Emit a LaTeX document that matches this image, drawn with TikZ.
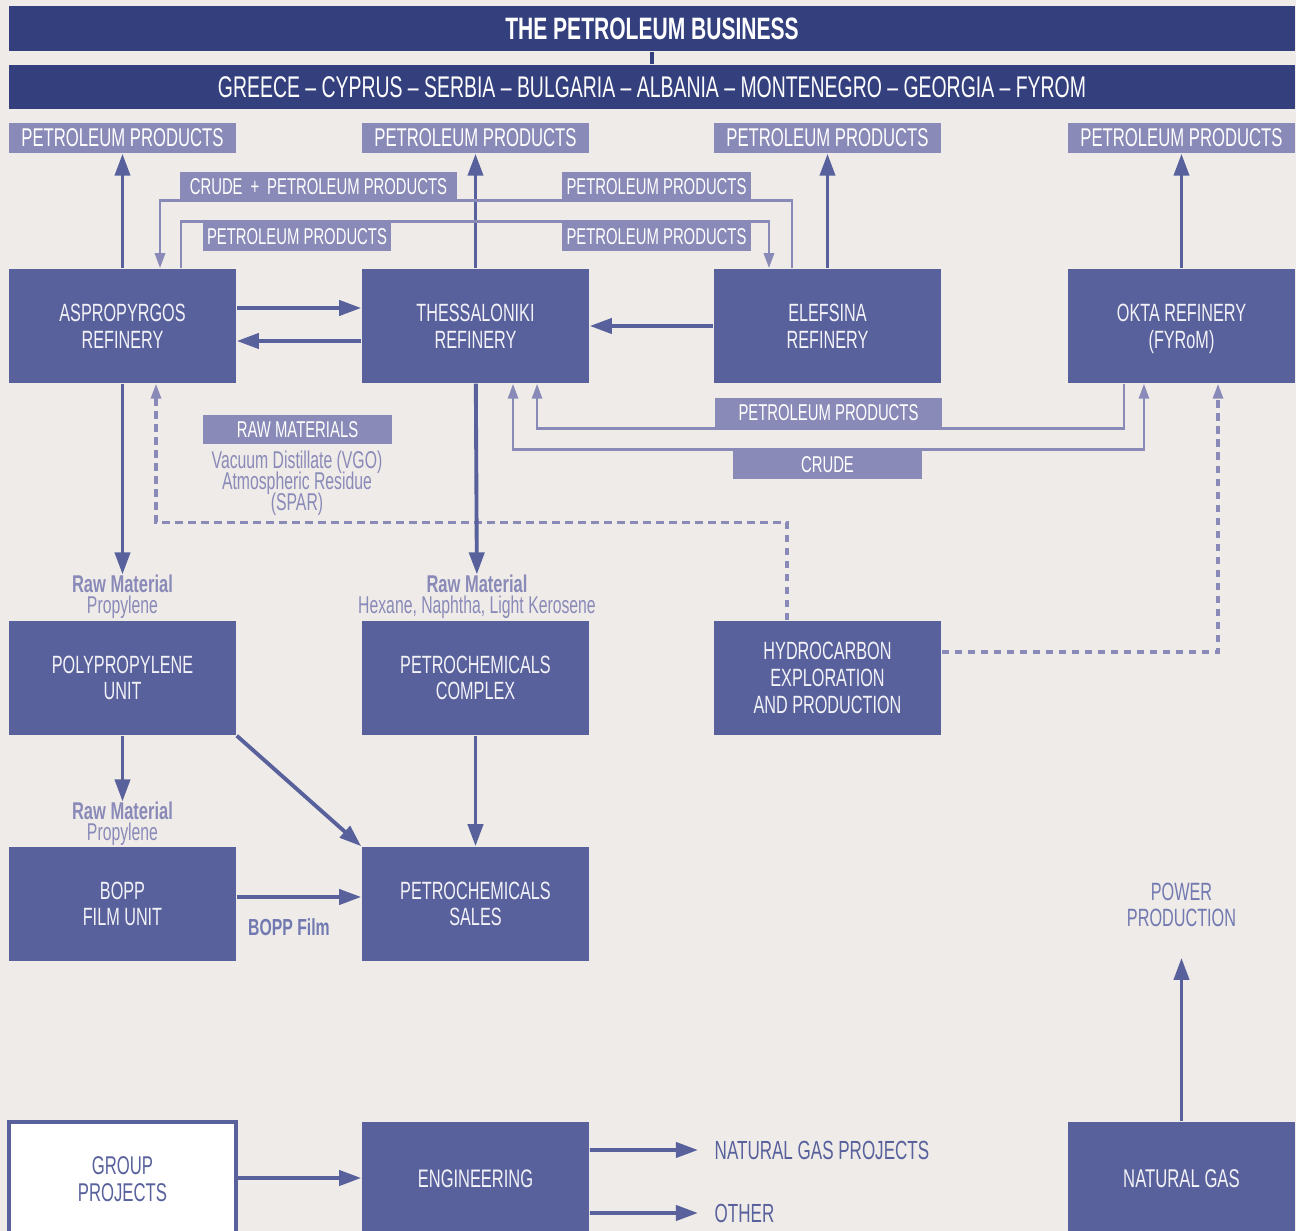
\documentclass[tikz,border=0pt]{standalone}
\usepackage{fontspec}
\setmainfont{Liberation Sans}[FakeStretch=0.65,BoldFeatures={FakeStretch=0.68}]
\usetikzlibrary{arrows.meta}
\definecolor{headblue}{HTML}{343F7E}
\definecolor{boxblue}{HTML}{58619B}
\definecolor{tagblue}{HTML}{8A8AB8}
\definecolor{midblue}{HTML}{7279B0}
\definecolor{paper}{HTML}{EEEBE8}
\definecolor{boxtext}{HTML}{F2F2F8}
\tikzstyle{head}=[fill=headblue,text=white,minimum width=12.86cm,align=center,inner sep=0pt]
\tikzstyle{unit}=[fill=boxblue,text=boxtext,minimum width=2.27cm,minimum height=1.14cm,align=center,inner sep=0pt,font=\fontsize{7.1}{7.6}\selectfont]
\tikzstyle{prod}=[fill=tagblue,text=white,minimum width=2.27cm,minimum height=0.30cm,inner sep=0pt,font=\fontsize{7.3}{7.5}\selectfont]
\tikzstyle{tag}=[fill=tagblue,text=white,minimum height=0.29cm,inner sep=0pt,font=\fontsize{6.5}{7}\selectfont]
\tikzstyle{note}=[text=tagblue,align=center,inner sep=0pt,font={\fontsize{6.9}{6}\selectfont\lineskiplimit=-5pt}]
\tikzstyle{flow}=[boxblue,line width=1.1pt,-{Triangle[length=0.22cm,width=0.15cm]}]
\tikzstyle{feed}=[tagblue,line width=0.8pt,>={Triangle[length=0.15cm,width=0.1cm]}]
\tikzstyle{probe}=[feed,line width=0.9pt,dash pattern=on 0.075cm off 0.055cm]

\begin{document}
\begin{tikzpicture}[x=0.01cm,y=-0.01cm]
    \fill[paper] (0,0) rectangle (1296,1231);
    \useasboundingbox (0,0) rectangle (1296,1231);
    % headers
    \node[head,minimum height=0.45cm,font=\bfseries\fontsize{8.8}{9}\selectfont] (title) at (652,28.5) {THE PETROLEUM BUSINESS};
    \node[head,minimum height=0.44cm,font=\fontsize{8.5}{9}\selectfont] (countries) at (652,87) {GREECE -- CYPRUS -- SERBIA -- BULGARIA -- ALBANIA -- MONTENEGRO -- GEORGIA -- FYROM};
    \draw[headblue,line width=1.1pt] (title) -- (countries);
    \foreach \x/\n in {122.5/1,475.5/2,827.5/3,1181.5/4}
      \node[prod] (pp\n) at (\x,138) {PETROLEUM PRODUCTS};
    % refineries
    \node[unit] (asp) at (122.5,326) {ASPROPYRGOS\\REFINERY};
    \node[unit] (thes) at (475.5,326) {THESSALONIKI\\REFINERY};
    \node[unit] (elef) at (827.5,326) {ELEFSINA\\REFINERY};
    \node[unit] (okta) at (1181.5,326) {OKTA REFINERY\\\smash{(FYRoM)}};
    % petrochemicals
    \node[unit] (poly) at (122.5,678) {POLYPROPYLENE\\UNIT};
    \node[unit] (complex) at (475.5,678) {PETROCHEMICALS\\COMPLEX};
    \node[unit] (hydro) at (827.5,678) {HYDROCARBON\\EXPLORATION\\AND PRODUCTION};
    \node[unit] (bopp) at (122.5,904) {BOPP\\FILM UNIT};
    \node[unit] (sales) at (475.5,904) {PETROCHEMICALS\\SALES};
    % bottom row
    \node[unit,fill=white,draw=boxblue,line width=1pt,text=boxblue,font=\fontsize{7.3}{7.6}\selectfont] (group) at (122.5,1179) {GROUP\\PROJECTS};
    \node[unit,font=\fontsize{7.2}{7.6}\selectfont] (eng) at (475.5,1179) {ENGINEERING};
    \node[unit,font=\fontsize{7.3}{7.6}\selectfont] (natgas) at (1181.5,1179) {NATURAL GAS};
    \node[text=midblue,align=center,inner sep=0pt,font=\fontsize{7.1}{7.6}\selectfont] (power) at (1181.5,905) {POWER\\PRODUCTION};
    \node[anchor=west,inner xsep=0.16cm,inner ysep=0pt,text=boxblue,font=\fontsize{7.45}{7.6}\selectfont] (ngp) at (698,1150) {NATURAL GAS PROJECTS};
    \node[anchor=west,inner xsep=0.16cm,inner ysep=0pt,text=boxblue,font=\fontsize{7.45}{7.6}\selectfont] (other) at (698,1213) {OTHER};
    % notes
    \node[note] (rawpoly) at (122.5,597) {\textbf{Raw Material}\\Propylene};
    \node[note] (rawcomplex) at (477,597) {\textbf{Raw Material}\\Hexane, Naphtha, Light Kerosene};
    \node[note] (rawbopp) at (122.5,824) {\textbf{Raw Material}\\Propylene};
    \node[note,text=midblue,font=\fontsize{6.6}{6}\selectfont] (film) at (289,927) {\textbf{BOPP Film}};
    \node[note] (vgo) at (297,483) {Vacuum Distillate (VGO)\\Atmospheric Residue\\(SPAR)};

    % product flows
    \draw[flow] (asp) -- (pp1);
    \draw[flow] (thes) -- (pp2);
    \draw[flow] (elef) -- (pp3);
    \draw[flow] (okta) -- (pp4);
    \draw[flow] ([yshift=0.18cm]asp.east) -- ([yshift=0.18cm]thes.west);
    \draw[flow] ([yshift=-0.15cm]thes.west) -- ([yshift=-0.15cm]asp.east);
    \draw[flow] (elef) -- (thes);
    \draw[feed,->] ([xshift=-0.355cm]elef.north) -- ++(0,-68) -| ([xshift=0.375cm]asp.north);
    \draw[feed,->] ([xshift=0.585cm]asp.north) -- ++(0,-47) -| ([xshift=-0.585cm]elef.north);
    \draw[feed,->] ([xshift=-0.575cm]okta.south) -- ++(0,45) -| ([xshift=0.615cm]thes.south);
    \draw[feed,<->] ([xshift=0.375cm]thes.south) -- ++(0,66) -| ([xshift=-0.375cm]okta.south);
    \draw[probe,->] ([xshift=-0.405cm]hydro.north) -- ++(0,-98) -| ([xshift=0.335cm]asp.south);
    \draw[probe,->] ([yshift=0.26cm]hydro.east) -| ([xshift=0.365cm]okta.south);
    % petrochemical flows
    \draw[flow] (asp) -- (rawpoly);
    \draw[flow] (thes) -- (rawcomplex);
    \draw[flow] (poly) -- (rawbopp);
    \draw[flow] (poly.south east) -- (sales.north west);
    \draw[flow] (complex) -- (sales);
    \draw[flow] ([yshift=0.07cm]bopp.east) -- ([yshift=0.07cm]sales.west);
    \draw[flow,shorten >=0.3cm] (natgas) -- (power);
    \draw[flow] ([yshift=0.01cm]group.east) -- ([yshift=0.01cm]eng.west);
    \draw[flow] ([yshift=0.29cm]eng.east) -- (ngp.west);
    \draw[flow] ([yshift=-0.34cm]eng.east) -- (other.west);

    % flow labels
    \node[tag,minimum width=2.77cm] (crudepp) at (318.5,186.5) {CRUDE \,+\, PETROLEUM PRODUCTS};
    \node[tag,minimum width=1.89cm] (ppupper) at (656.5,186.5) {PETROLEUM PRODUCTS};
    \node[tag,minimum width=1.88cm] (pplower) at (297,236.5) {PETROLEUM PRODUCTS};
    \node[tag,minimum width=1.89cm] (ppright) at (656.5,236.5) {PETROLEUM PRODUCTS};
    \node[tag,minimum width=2.27cm,minimum height=0.30cm] (ppokta) at (828.5,413) {PETROLEUM PRODUCTS};
    \node[tag,minimum width=1.89cm] (crude) at (827.5,464.5) {CRUDE};
    \node[tag,minimum width=1.89cm] (rawmat) at (297.5,429.5) {RAW MATERIALS};
\end{tikzpicture}
\end{document}
